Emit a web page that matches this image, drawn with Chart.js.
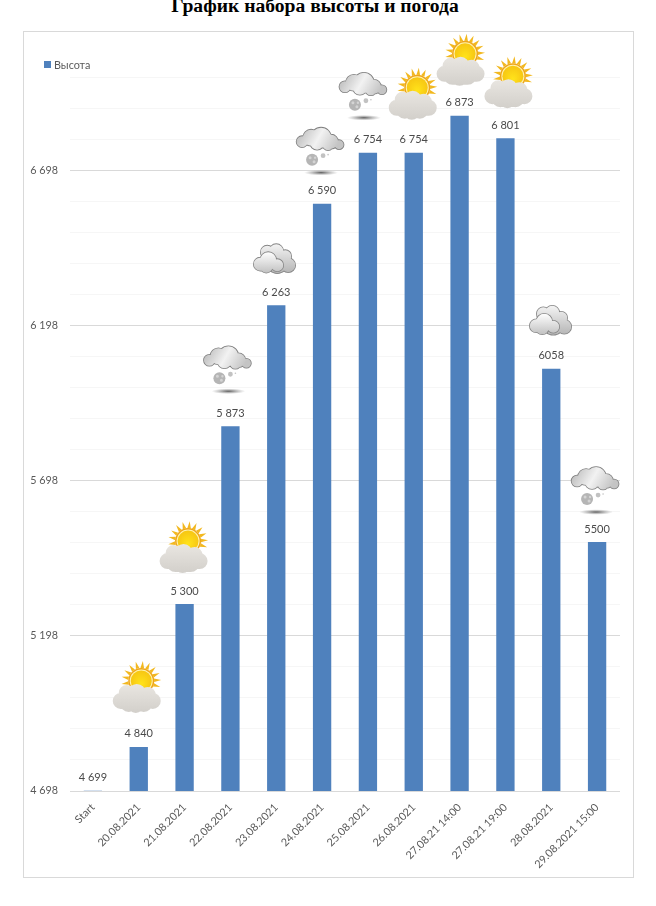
<!DOCTYPE html>
<html lang="ru">
<head>
<meta charset="utf-8">
<title>График набора высоты и погода</title>
<script src="https://cdn.jsdelivr.net/npm/chart.js@4"></script>
<style>
  html, body { margin: 0; padding: 0; background: #fff; overflow: hidden; }
  body { width: 656px; height: 906px; position: relative; }
  h1 {
    position: absolute; left: 0; top: -4px; width: 630px; margin: 0;
    text-align: center; font: bold 19.6px/20px "Liberation Serif", serif; color: #000;
  }
  .chart-box {
    position: absolute; left: 23px; top: 31px; width: 609px; height: 845px;
    border: 1px solid #d9d9d9;
  }
  .legend {
    position: absolute; left: 20px; top: 26px; display: flex; align-items: center;
    font: 10.8px Lato, sans-serif; color: #595959;
  }
  .legend i { width: 7px; height: 7px; margin-right: 3px; display: block; }
</style>
</head>
<body>
<h1>График набора высоты и погода</h1>
<div class="chart-box">
  <canvas id="chart"></canvas>
  <div class="legend" id="legend"></div>
</div>
<script>
const seriesName = 'Высота';
const categories = ['Start', '20.08.2021', '21.08.2021', '22.08.2021', '23.08.2021', '24.08.2021',
  '25.08.2021', '26.08.2021', '27.08.21 14:00', '27.08.21 19:00', '28.08.2021', '29.08.2021 15:00'];
const heights = [4699, 4840, 5300, 5873, 6263, 6590, 6754, 6754, 6873, 6801, 6058, 5500];
const heightLabels = ['4 699', '4 840', '5 300', '5 873', '6 263', '6 590', '6 754', '6 754', '6 873', '6 801', '6058', '5500'];
const weather = ['', 'sun', 'sun', 'snow', 'clouds', 'snow', 'snow', 'sun', 'sun', 'sun', 'clouds', 'snow'];
const yTicks = [4698, 4798, 4898, 4998, 5098, 5198, 5298, 5398, 5498, 5598, 5698, 5798,
  5898, 5998, 6098, 6198, 6298, 6398, 6498, 6598, 6698, 6798, 6898, 6998];
const yTickLabels = { 4698: '4 698', 5198: '5 198', 5698: '5 698', 6198: '6 198', 6698: '6 698' };

// icon position relative to the top of its bar
const iconShiftX = [0, -2, -1, -3, -2, -2, -5, -1, 1, 3, -1, -2];
const iconShiftY = [0, -49, -46, -68, -46, -64, -68, -48, -45, -45, -48, -63];

const barColor = '#4f81bd';
const labelFont = '11px Lato, sans-serif';

document.getElementById('legend').innerHTML =
  `<i style="background:${barColor}"></i>${seriesName}`;

function puffs(ctx, circles, fill, outline) {
  if (outline) {
    ctx.fillStyle = outline;
    ctx.beginPath();
    circles.forEach(([x, y, r]) => { ctx.moveTo(x + r + 0.8, y); ctx.arc(x, y, r + 0.8, 0, Math.PI * 2); });
    ctx.fill();
  }
  ctx.fillStyle = fill;
  ctx.beginPath();
  circles.forEach(([x, y, r]) => { ctx.moveTo(x + r, y); ctx.arc(x, y, r, 0, Math.PI * 2); });
  ctx.fill();
}

function drawSun(ctx, x, y) {
  const sx = x + 4.5;
  const sy = y - 17;
  ctx.fillStyle = '#f2b81e';
  for (let i = 0; i < 11; i++) {
    const a = Math.PI * 0.95 + i * Math.PI * 1.15 / 10;
    ctx.beginPath();
    ctx.moveTo(sx + Math.cos(a - 0.14) * 13, sy + Math.sin(a - 0.14) * 13);
    ctx.lineTo(sx + Math.cos(a) * 20, sy + Math.sin(a) * 20);
    ctx.lineTo(sx + Math.cos(a + 0.14) * 13, sy + Math.sin(a + 0.14) * 13);
    ctx.fill();
  }
  ctx.fillStyle = '#eea51a';
  ctx.beginPath();
  ctx.arc(sx, sy, 13, 0, Math.PI * 2);
  ctx.fill();
  ctx.fillStyle = '#fff3b0';
  ctx.beginPath();
  ctx.arc(sx, sy, 11.5, 0, Math.PI * 2);
  ctx.fill();
  const disc = ctx.createRadialGradient(sx, sy + 3, 1, sx, sy, 11);
  disc.addColorStop(0, '#ffe11a');
  disc.addColorStop(1, '#f6c512');
  ctx.fillStyle = disc;
  ctx.beginPath();
  ctx.arc(sx, sy, 10.5, 0, Math.PI * 2);
  ctx.fill();
  const cloud = ctx.createLinearGradient(0, y - 14, 0, y + 14);
  cloud.addColorStop(0, '#e9e6e1');
  cloud.addColorStop(1, '#d3d0cb');
  puffs(ctx, [[x - 16, y + 3, 8], [x - 10, y - 5, 8], [x, y - 5, 9], [x + 11, y - 3, 8],
    [x + 16, y + 3, 8], [x - 8, y + 5, 9], [x + 7, y + 5, 9], [x - 1, y + 7, 8]], cloud);
}

function drawSnow(ctx, x, y) {
  const cloud = ctx.createLinearGradient(x - 20, y - 10, x + 15, y + 10);
  cloud.addColorStop(0, '#bdbdbd');
  cloud.addColorStop(0.5, '#f2f2f2');
  cloud.addColorStop(1, '#c4c4c4');
  puffs(ctx, [[x - 18, y + 2, 5.5], [x - 9, y - 2, 8], [x + 1, y - 2, 10], [x + 11, y + 2, 7],
    [x + 19, y + 5, 4.5], [x - 3, y + 3, 7], [x + 8, y + 5, 5.5]], cloud, '#7f7f7f');
  puffs(ctx, [[x - 8, y + 20, 6]], '#b5b5b5');
  puffs(ctx, [[x - 10, y + 18, 1.5], [x - 6, y + 22, 1.5], [x - 5, y + 18, 1.2]], '#d4d4d4');
  puffs(ctx, [[x + 3, y + 16, 2.4], [x + 8, y + 15, 0.8]], '#c2c2c2');
  const shadow = ctx.createRadialGradient(0, 0, 0, 0, 0, 1);
  shadow.addColorStop(0, '#5f5f5f');
  shadow.addColorStop(1, 'rgba(150,150,150,0)');
  ctx.save();
  ctx.translate(x + 1, y + 33);
  ctx.scale(17, 2.8);
  ctx.fillStyle = shadow;
  ctx.beginPath();
  ctx.arc(0, 0, 1, 0, Math.PI * 2);
  ctx.fill();
  ctx.restore();
}

function drawClouds(ctx, x, y) {
  const back = ctx.createLinearGradient(0, y - 14, 0, y + 14);
  back.addColorStop(0, '#f1f1f1');
  back.addColorStop(1, '#b5b5b5');
  puffs(ctx, [[x - 7, y - 7, 6.5], [x + 2, y - 8, 7], [x + 11, y - 3, 6], [x + 14, y + 6, 7], [x + 3, y + 4, 10]], back, '#858585');
  const front = ctx.createLinearGradient(0, y - 6, 0, y + 14);
  front.addColorStop(0, '#fbfbfb');
  front.addColorStop(1, '#c0c0c0');
  puffs(ctx, [[x - 14, y + 5, 6.5], [x - 6, y + 1, 8], [x + 3, y + 6, 6], [x - 8, y + 7, 6.5]], front, '#858585');
}

const barDecorations = {
  id: 'barDecorations',
  afterDatasetsDraw(chart) {
    const ctx = chart.ctx;
    const bars = chart.getDatasetMeta(0).data;
    ctx.save();
    ctx.textAlign = 'center';
    ctx.textBaseline = 'middle';
    bars.forEach((bar, i) => {
      ctx.font = labelFont;
      ctx.fillStyle = '#4a4a4a';
      ctx.fillText(heightLabels[i], bar.x, bar.y - 13);
      const x = bar.x + iconShiftX[i];
      const y = bar.y + iconShiftY[i];
      ctx.filter = 'blur(0.5px)';
      if (weather[i] === 'sun') drawSun(ctx, x, y);
      if (weather[i] === 'snow') drawSnow(ctx, x, y);
      if (weather[i] === 'clouds') drawClouds(ctx, x, y);
      ctx.filter = 'none';
    });
    ctx.restore();
  },
};

new Chart(document.getElementById('chart'), {
  type: 'bar',
  data: {
    labels: categories,
    datasets: [{
      label: seriesName,
      data: heights,
      backgroundColor: barColor,
      barPercentage: 0.4,
      categoryPercentage: 1,
    }],
  },
  plugins: [barDecorations],
  options: {
    responsive: true,
    maintainAspectRatio: false,
    animation: false,
    layout: { padding: { top: 45, right: 13, bottom: 0, left: 0 } },
    plugins: { legend: { display: false }, title: { display: false }, tooltip: { enabled: false } },
    scales: {
      x: {
        afterFit(scale) { scale.height = 86; },
        grid: { display: false },
        border: { display: false },
        ticks: {
          color: '#595959',
          font: { family: 'Lato, sans-serif', size: 10.8 },
          minRotation: 45,
          maxRotation: 45,
          autoSkip: false,
          padding: 2,
        },
      },
      y: {
        min: 4698,
        max: 6998,
        afterFit(scale) { scale.width = 46; },
        afterBuildTicks(scale) { scale.ticks = yTicks.map(value => ({ value })); },
        border: { display: false },
        grid: {
          drawTicks: false,
          color: ctx => (yTickLabels[ctx.tick.value] ? '#d9d9d9' : '#f6f6f6'),
        },
        ticks: {
          color: '#595959',
          font: { family: 'Lato, sans-serif', size: 10.8 },
          autoSkip: false,
          padding: 12,
          callback: value => yTickLabels[value] || '',
        },
      },
    },
  },
});
</script>
</body>
</html>
